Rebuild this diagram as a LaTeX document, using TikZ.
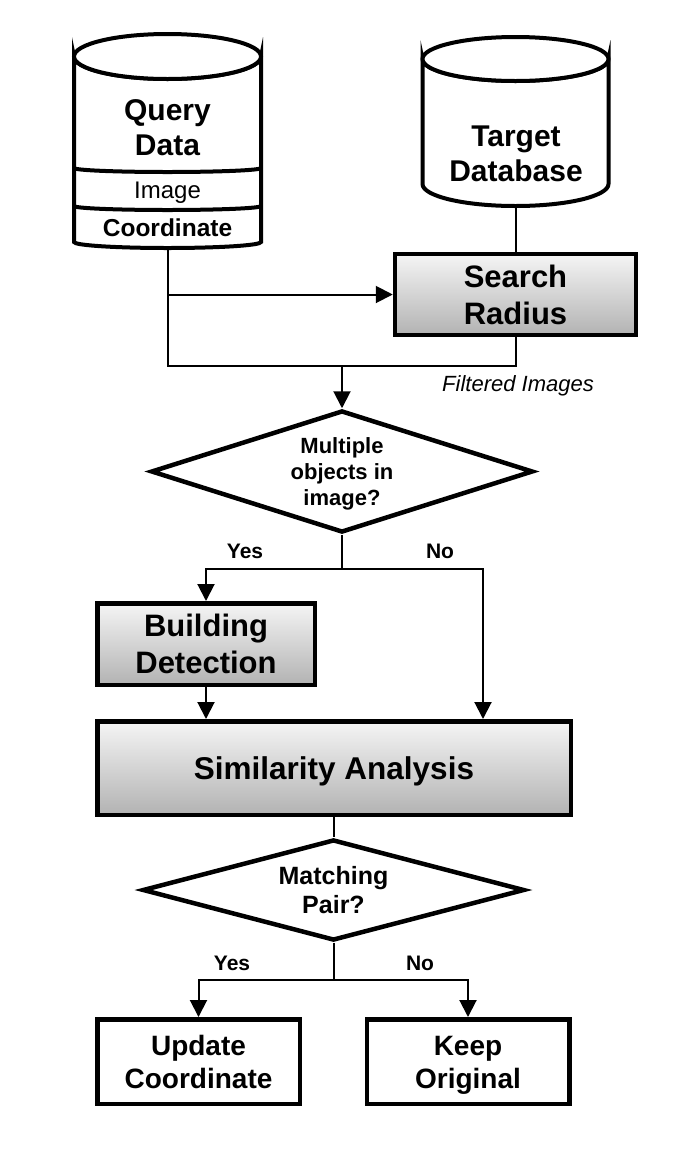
\documentclass[tikz,border=0pt]{standalone}
\usepackage{fontspec}
\setmainfont{Liberation Sans}
\usetikzlibrary{arrows.meta,shapes.geometric,calc}
\newcommand\cln[1]{\smash{#1}\rule{0pt}{0.716em}}
\begin{document}
\begin{tikzpicture}[x=1pt,y=-1pt,
  conn/.style={draw=black, line width=2pt},
  arr/.style={conn, -{Triangle[length=17pt,width=17pt]}},
  procbox/.style={draw=black, line width=4.5pt, top color=white!96!black, bottom color=white!70!black,
     font=\bfseries\fontsize{31}{37}\selectfont, align=center, inner sep=0pt},
  plainbox/.style={draw=black, line width=4.5pt, fill=white,
     font=\bfseries\fontsize{28}{33}\selectfont, align=center, inner sep=0pt},
  decision/.style={diamond, draw=black, line width=4.5pt, fill=white, inner sep=0pt, aspect=3,
     align=center},
  cyl/.style={draw=black, line width=4pt, fill=white},
  lbl/.style={font=\bfseries\fontsize{21}{24}\selectfont, inner sep=0pt},
  bigtxt/.style={font=\bfseries\fontsize{30}{35}\selectfont, align=center, inner sep=0pt}
]
\useasboundingbox (0,0) rectangle (678,1152);
\fill[white] (0,0) rectangle (678,1152);

% ---- Query Data cylinder ----
\node[minimum width=187pt, minimum height=213pt, inner sep=0pt] (qd) at (167.5,141.5) {};
\path[cyl] (74,56.5) -- (74,242) arc[start angle=180, end angle=360, x radius=93.5pt, y radius=6pt]
   -- (261,56.5) arc[start angle=0, end angle=-180, x radius=93.5pt, y radius=22.5pt] -- cycle;
\draw[cyl] (167.5,56.5) ellipse [x radius=93.5pt, y radius=22.5pt];
\draw[line width=4pt] (74,168) arc[start angle=180, end angle=360, x radius=93.5pt, y radius=4pt];
\draw[line width=4pt] (74,206) arc[start angle=180, end angle=360, x radius=93.5pt, y radius=4pt];
\node[bigtxt] (qdt) at (167.5,127.5) {\cln{Query}\\\cln{Data}};
\node[font=\fontsize{24}{26}\selectfont, inner sep=0pt] (qdi) at (167.5,190) {\cln{Image}};
\node[font=\bfseries\fontsize{24.5}{26}\selectfont, inner sep=0pt] (qdc) at (167.5,228) {\cln{Coordinate}};

% ---- Target Database cylinder ----
\node[minimum width=186pt, minimum height=169pt, inner sep=0pt] (td) at (515.5,121.5) {};
\path[cyl] (422.5,59) -- (422.5,184) arc[start angle=180, end angle=360, x radius=93pt, y radius=22pt]
   -- (608.5,59) arc[start angle=0, end angle=-180, x radius=93pt, y radius=22pt] -- cycle;
\draw[cyl] (515.5,59) ellipse [x radius=93pt, y radius=22pt];
\node[bigtxt] (tdt) at (516,153.5) {\cln{Target}\\\cln{Database}};

% ---- Search Radius ----
\node[procbox, minimum width=241pt, minimum height=81pt] (sr) at (515.5,294.5) {\cln{Search}\\\cln{Radius}};
\node[font=\itshape\fontsize{22}{26}\selectfont, inner sep=0pt] (fi) at (518,384) {\cln{Filtered Images}};

% ---- Decision 1 ----
\node[decision, minimum width=382pt, minimum height=122pt,
      font=\bfseries\fontsize{22}{26}\selectfont] (d1) at (342,471.5) {\cln{Multiple}\\\cln{objects in}\\\cln{image?}};

% ---- Building detection / similarity ----
\node[procbox, minimum width=217.5pt, minimum height=81.5pt] (bd) at (206,644) {\cln{Building}\\\cln{Detection}};
\node[procbox, minimum width=473.5pt, minimum height=93.5pt, font=\bfseries\fontsize{31.5}{37}\selectfont] (sa) at (334,768) {\cln{Similarity Analysis}};

% ---- Decision 2 ----
\node[decision, minimum width=382pt, minimum height=101pt,
      font=\bfseries\fontsize{25}{29}\selectfont] (d2) at (333.5,890) {\cln{Matching}\\\cln{Pair?}};

% ---- Outcomes ----
\node[plainbox, minimum width=202.5pt, minimum height=84.5pt] (uc) at (198.5,1061.5) {\cln{Update}\\\cln{Coordinate}};
\node[plainbox, minimum width=202.5pt, minimum height=84.5pt] (ko) at (468,1061.5) {\cln{Keep}\\\cln{Original}};

% ---- connectors ----
\coordinate (j1) at (342,366);
\draw[conn] (td.south) -- (sr.north);
\draw[conn] (qd.south) -- (qd.south |- j1) -- (sr.south |- j1) -- (sr.south);
\draw[arr] (qd.south |- sr.west) -- (sr.west);
\draw[arr] (j1) -- (d1.north);

\coordinate (j2) at (342,569);
\coordinate (nox) at (483,0);
\draw[conn] (d1.south) -- (j2);
\draw[arr] (j2) -| (bd.north);
\draw[arr] (j2) -| (nox |- sa.north);
\node[lbl] (y1) at (245,551) {\cln{Yes}};
\node[lbl] (n1) at (440,551) {\cln{No}};
\draw[arr] (bd.south) -- (bd.south |- sa.north);

\draw[conn] (d2.north |- sa.south) -- (d2.north);
\coordinate (j3) at (333.5,980);
\draw[conn] (d2.south) -- (j3);
\draw[arr] (j3) -| (uc.north);
\draw[arr] (j3) -| (ko.north);
\node[lbl] (y2) at (232,963) {\cln{Yes}};
\node[lbl] (n2) at (420,963) {\cln{No}};
\end{tikzpicture}
\end{document}
